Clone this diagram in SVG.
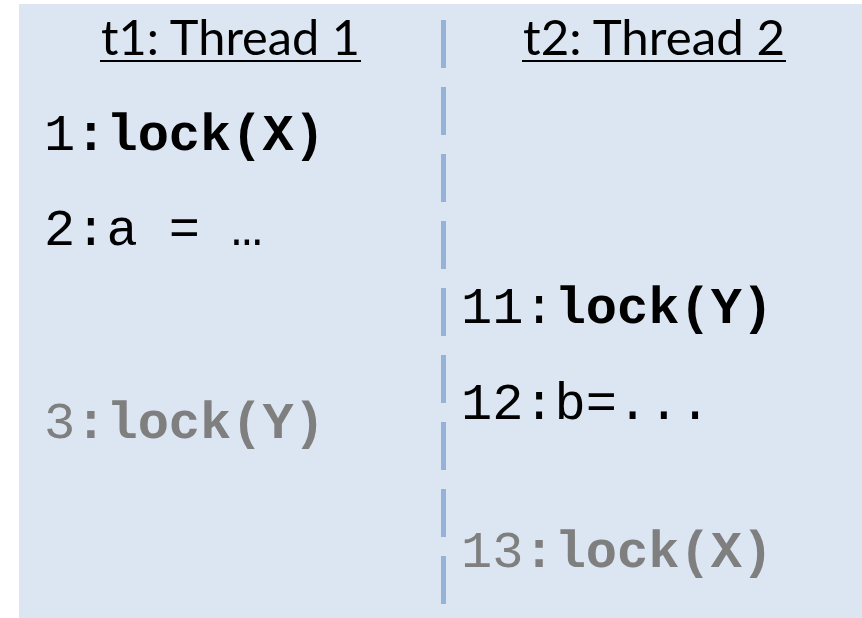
<svg xmlns="http://www.w3.org/2000/svg" width="862" height="618" viewBox="0 0 862 618">
  <style>
    .head { font-family: "Lato", "Open Sans", "Liberation Sans", sans-serif; font-size: 49px; fill: #000; }
    .ul { stroke: #000; stroke-width: 2; }
    .code { font-family: "Liberation Mono", "DejaVu Sans Mono", monospace; font-size: 52px; fill: #000; }
    .b { font-weight: bold; }
    .gray { fill: #7F7F7F; }
    .lane { stroke: #95B3D7; stroke-width: 5; stroke-dasharray: 48 19; fill: none; }
  </style>
  <!-- panel background -->
  <rect x="19" y="4" width="843" height="614" fill="#DCE6F2"/>

  <!-- lane divider -->
  <g id="connectors">
    <line class="lane" x1="443.5" y1="20" x2="443.5" y2="604"/>
  </g>

  <!-- thread headers -->
  <g id="thread1-header">
    <text class="head" x="101" y="55" textLength="259" lengthAdjust="spacingAndGlyphs">t1: Thread 1</text>
    <line class="ul" x1="100" y1="61" x2="361" y2="61"/>
  </g>
  <g id="thread2-header">
    <text class="head" x="523" y="55" textLength="262" lengthAdjust="spacingAndGlyphs">t2: Thread 2</text>
    <line class="ul" x1="522" y1="61" x2="786" y2="61"/>
  </g>

  <!-- thread 1 statements -->
  <g id="t1-line1">
    <text class="code" x="44" y="150">1<tspan class="b">:lock(X)</tspan></text>
  </g>
  <g id="t1-line2">
    <text class="code" x="44" y="245">2:a = …</text>
  </g>
  <g id="t1-line3">
    <text class="code gray" x="44" y="438">3<tspan class="b">:lock(Y)</tspan></text>
  </g>

  <!-- thread 2 statements -->
  <g id="t2-line11">
    <text class="code" x="461" y="323">11:<tspan class="b">lock(Y)</tspan></text>
  </g>
  <g id="t2-line12">
    <text class="code" x="461" y="419">12:b=...</text>
  </g>
  <g id="t2-line13">
    <text class="code gray" x="461" y="567">13<tspan class="b">:lock(X)</tspan></text>
  </g>
</svg>
